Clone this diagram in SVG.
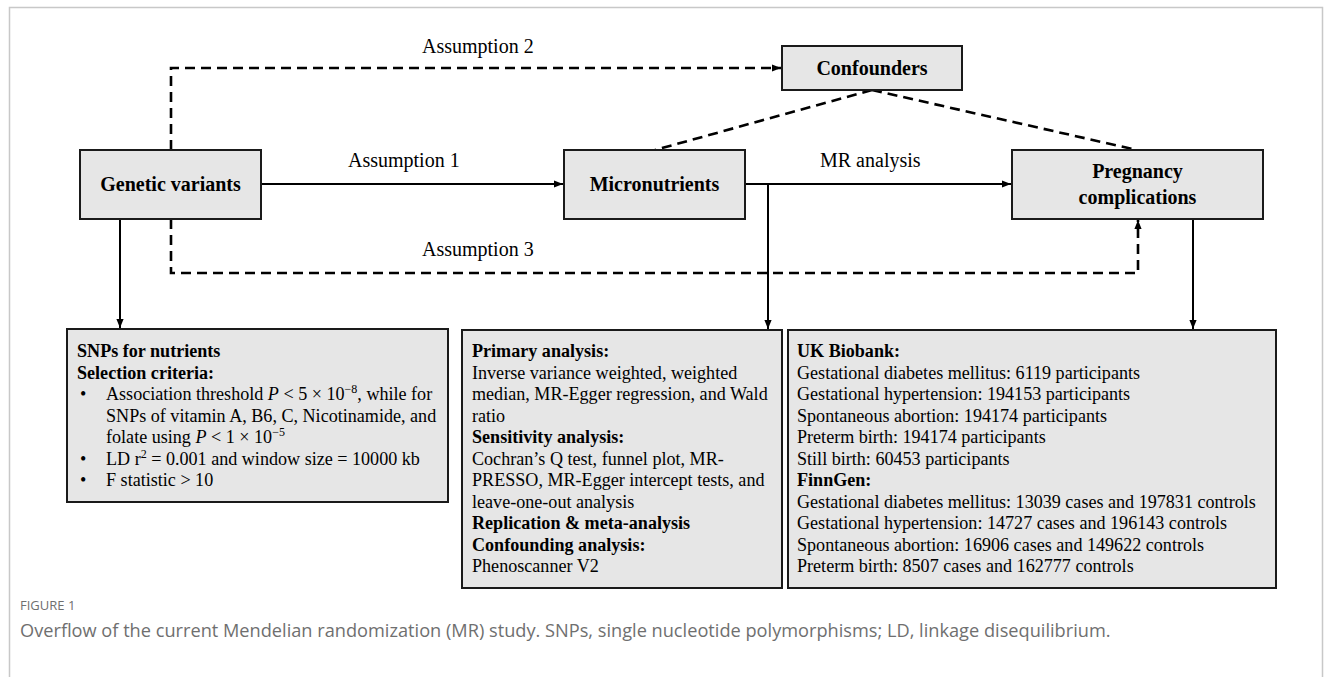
<svg xmlns="http://www.w3.org/2000/svg" width="1333" height="677" viewBox="0 0 1333 677">
<defs>
<marker id="ah" viewBox="0 0 10 10" refX="10" refY="5" markerWidth="9" markerHeight="9" markerUnits="userSpaceOnUse" orient="auto">
<path d="M0,1 L10,5 L0,9 Z" fill="#000"/>
</marker>
<style>
.node{fill:#e6e6e6;stroke:#1a1a1a;stroke-width:2}
.lbl{font-family:"Liberation Serif","Times New Roman",serif;font-size:20px;font-weight:bold;fill:#000;text-anchor:middle}
.elbl{font-family:"Liberation Serif","Times New Roman",serif;font-size:20px;fill:#000}
.body{font-family:"Liberation Serif","Times New Roman",serif;font-size:18.1px;fill:#000}
.b{font-weight:bold}
.solid{fill:none;stroke:#000;stroke-width:2}
.dash{fill:none;stroke:#000;stroke-width:2.6;stroke-dasharray:10 6}
.cap{font-family:"Open Sans","Noto Sans",sans-serif;fill:#6f6f6f}
</style>
</defs>
<rect x="0" y="0" width="1333" height="677" fill="#fff"/>
<path d="M9.5,677 V7.5 H1322.5 V677" fill="none" stroke="#c8c8c8" stroke-width="1.5"/>

<g id="connectors">
<line class="solid" x1="261" y1="184" x2="563" y2="184" marker-end="url(#ah)"/>
<line class="solid" x1="745" y1="184" x2="1011" y2="184" marker-end="url(#ah)"/>
<line class="solid" x1="768" y1="184" x2="768" y2="329" marker-end="url(#ah)"/>
<line class="solid" x1="120" y1="219" x2="120" y2="328" marker-end="url(#ah)"/>
<line class="solid" x1="1193" y1="219" x2="1193" y2="329" marker-end="url(#ah)"/>
<path class="dash" d="M171,150 V68 H781" marker-end="url(#ah)"/>
<path class="dash" d="M171,219 V273 H1138 V220" marker-end="url(#ah)"/>
<line class="dash" x1="872" y1="90" x2="655" y2="150"/>
<line class="dash" x1="872" y1="90" x2="1137" y2="150"/>
<text class="elbl" x="422" y="53">Assumption 2</text>
<text class="elbl" x="348" y="167">Assumption 1</text>
<text class="elbl" x="820" y="167">MR analysis</text>
<text class="elbl" x="422" y="256">Assumption 3</text>
</g>

<g id="genetic">
<rect class="node" x="80" y="150" width="181" height="69"/>
<text class="lbl" x="170.5" y="191">Genetic variants</text>
</g>
<g id="micronutrients">
<rect class="node" x="564" y="150" width="181" height="69"/>
<text class="lbl" x="654.5" y="191">Micronutrients</text>
</g>
<g id="confounders">
<rect class="node" x="782" y="46" width="180" height="44"/>
<text class="lbl" x="872" y="75">Confounders</text>
</g>
<g id="pregnancy">
<rect class="node" x="1012" y="150" width="251" height="69"/>
<text class="lbl" x="1137.5" y="178">Pregnancy</text>
<text class="lbl" x="1137.5" y="204">complications</text>
</g>

<g id="snps">
<rect class="node" x="67" y="329" width="381" height="173"/>
<text class="body b" x="77" y="357">SNPs for nutrients</text>
<text class="body b" x="77" y="378.5">Selection criteria:</text>
<text class="body" x="80" y="400">•</text>
<text class="body" x="106" y="400">Association threshold <tspan font-style="italic">P</tspan> &lt; 5 × 10<tspan dy="-7" font-size="12">−8</tspan><tspan dy="7">, while for</tspan></text>
<text class="body" x="106" y="421.5">SNPs of vitamin A, B6, C, Nicotinamide, and</text>
<text class="body" x="106" y="443">folate using <tspan font-style="italic">P</tspan> &lt; 1 × 10<tspan dy="-7" font-size="12">−5</tspan></text>
<text class="body" x="80" y="464.5">•</text>
<text class="body" x="106" y="464.5">LD r<tspan dy="-7" font-size="12">2</tspan><tspan dy="7"> = 0.001 and window size = 10000 kb</tspan></text>
<text class="body" x="80" y="486">•</text>
<text class="body" x="106" y="486">F statistic &gt; 10</text>
</g>

<g id="analysis">
<rect class="node" x="462" y="330" width="320" height="258"/>
<text class="body b" x="472" y="357">Primary analysis:</text>
<text class="body" x="472" y="378.5">Inverse variance weighted, weighted</text>
<text class="body" x="472" y="400">median, MR-Egger regression, and Wald</text>
<text class="body" x="472" y="421.5">ratio</text>
<text class="body b" x="472" y="443">Sensitivity analysis:</text>
<text class="body" x="472" y="464.5">Cochran’s Q test, funnel plot, MR-</text>
<text class="body" x="472" y="486">PRESSO, MR-Egger intercept tests, and</text>
<text class="body" x="472" y="507.5">leave-one-out analysis</text>
<text class="body b" x="472" y="529">Replication &amp; meta-analysis</text>
<text class="body b" x="472" y="550.5">Confounding analysis:</text>
<text class="body" x="472" y="572">Phenoscanner V2</text>
</g>

<g id="datasets">
<rect class="node" x="788" y="330" width="488" height="258"/>
<text class="body b" x="797" y="357">UK Biobank:</text>
<text class="body" x="797" y="378.5">Gestational diabetes mellitus: 6119 participants</text>
<text class="body" x="797" y="400">Gestational hypertension: 194153 participants</text>
<text class="body" x="797" y="421.5">Spontaneous abortion: 194174 participants</text>
<text class="body" x="797" y="443">Preterm birth: 194174 participants</text>
<text class="body" x="797" y="464.5">Still birth: 60453 participants</text>
<text class="body b" x="797" y="486">FinnGen:</text>
<text class="body" x="797" y="507.5">Gestational diabetes mellitus: 13039 cases and 197831 controls</text>
<text class="body" x="797" y="529">Gestational hypertension: 14727 cases and 196143 controls</text>
<text class="body" x="797" y="550.5">Spontaneous abortion: 16906 cases and 149622 controls</text>
<text class="body" x="797" y="572">Preterm birth: 8507 cases and 162777 controls</text>
</g>

<g id="caption">
<text class="cap" x="20" y="610" font-size="13" fill="#7a7a7a">FIGURE 1</text>
<text class="cap" x="20" y="637" font-size="18.2">Overflow of the current Mendelian randomization (MR) study. SNPs, single nucleotide polymorphisms; LD, linkage disequilibrium.</text>
</g>
</svg>
